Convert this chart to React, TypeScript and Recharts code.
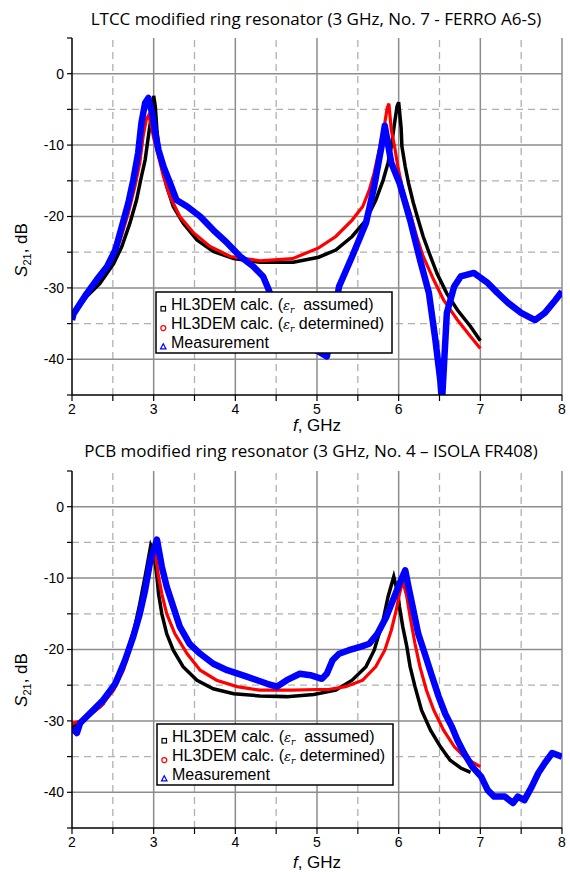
import React from 'react'
import { LineChart, Line, XAxis, YAxis, ReferenceLine } from 'recharts'

// axis ticks
const freqTicks = [2, 2.5, 3, 3.5, 4, 4.5, 5, 5.5, 6, 6.5, 7, 7.5, 8]
const freqMajor = [2, 3, 4, 5, 6, 7, 8]
const freqMinor = [2.5, 3.5, 4.5, 5.5, 6.5, 7.5]
const dbTicks = [-45, -40, -35, -30, -25, -20, -15, -10, -5, 0, 5]
const dbMajor = [-40, -30, -20, -10, 0]
const dbMinor = [-35, -25, -15, -5]

// LTCC, No. 7 - FERRO A6-S
const ltccAssumedF = [2.0, 2.18, 2.34, 2.51, 2.61, 2.71, 2.79, 2.85, 2.895, 2.935, 2.97, 3.0, 3.02, 3.04, 3.06, 3.1, 3.16, 3.24, 3.36, 3.53, 3.73, 3.98, 4.3, 4.71, 5.02, 5.23, 5.43, 5.6, 5.72, 5.81, 5.87, 5.91, 5.95, 5.98, 6.0, 6.03, 6.04, 6.08, 6.12, 6.18, 6.24, 6.3, 6.39, 6.47, 6.59, 6.72, 6.88, 7.0]
const ltccAssumedS = [-34.0, -31.2, -29.4, -26.6, -24.2, -20.9, -17.7, -14.4, -12.1, -8.8, -6.0, -3.1, -4.6, -7.9, -10.2, -13.0, -15.8, -18.6, -20.9, -23.3, -24.9, -25.9, -26.4, -26.4, -25.7, -24.7, -22.8, -20.5, -17.7, -14.9, -12.5, -10.2, -6.9, -4.6, -4.0, -7.6, -10.2, -13.0, -15.3, -18.1, -20.5, -22.8, -25.6, -28.0, -30.8, -33.1, -35.4, -37.4]

const ltccDeterminedF = [2.0, 2.06, 2.26, 2.47, 2.59, 2.69, 2.77, 2.83, 2.87, 2.91, 2.94, 2.97, 3.0, 3.06, 3.12, 3.2, 3.32, 3.49, 3.69, 3.94, 4.3, 4.7, 5.02, 5.23, 5.43, 5.56, 5.64, 5.7, 5.77, 5.83, 5.86, 5.88, 5.91, 5.95, 5.99, 6.05, 6.14, 6.22, 6.3, 6.43, 6.55, 6.72, 6.88, 7.0]
const ltccDeterminedS = [-33.8, -32.6, -29.8, -26.6, -23.3, -19.5, -15.8, -12.5, -8.8, -6.4, -5.8, -7.2, -9.0, -11.6, -14.4, -17.2, -20.0, -22.3, -24.2, -25.6, -26.2, -25.9, -24.4, -22.8, -20.5, -18.6, -16.3, -13.9, -10.2, -6.9, -4.8, -4.2, -7.9, -10.2, -13.0, -16.3, -19.5, -22.8, -25.6, -28.9, -31.7, -34.5, -36.8, -38.5]

const ltccMeasuredF = [2.0, 2.02, 2.1, 2.18, 2.3, 2.43, 2.53, 2.61, 2.69, 2.75, 2.81, 2.85, 2.895, 2.935, 2.98, 3.02, 3.06, 3.12, 3.2, 3.28, 3.41, 3.57, 3.73, 3.9, 4.06, 4.22, 4.34, 4.41, 4.46, 4.6, 4.8, 5.0, 5.12, 5.17, 5.22, 5.27, 5.43, 5.6, 5.7, 5.79, 5.83, 5.91, 6.01, 6.14, 6.26, 6.37, 6.45, 6.51, 6.53, 6.59, 6.68, 6.76, 6.92, 7.09, 7.21, 7.34, 7.5, 7.67, 7.79, 7.92, 8.0]
const ltccMeasuredS = [-34.5, -33.6, -32.2, -30.8, -28.9, -27.0, -24.7, -21.4, -18.1, -14.9, -11.1, -6.9, -4.1, -3.4, -5.5, -8.3, -10.7, -13.0, -15.3, -17.7, -18.6, -20.0, -21.9, -23.7, -25.6, -27.0, -28.4, -30.3, -32.0, -34.5, -37.0, -38.8, -39.6, -37.0, -33.0, -29.8, -25.6, -20.9, -15.8, -10.2, -7.3, -12.5, -15.3, -20.5, -26.0, -30.7, -37.3, -43.0, -46.0, -33.5, -29.8, -28.4, -27.9, -29.3, -30.7, -32.1, -33.5, -34.5, -33.5, -31.7, -30.5]

// PCB, No. 4 - ISOLA FR408
const pcbAssumedF = [2.0, 2.18, 2.38, 2.55, 2.67, 2.77, 2.83, 2.895, 2.94, 2.965, 2.99, 3.02, 3.04, 3.06, 3.1, 3.16, 3.24, 3.36, 3.53, 3.73, 3.98, 4.3, 4.63, 4.96, 5.23, 5.43, 5.6, 5.7, 5.81, 5.87, 5.94, 5.99, 6.01, 6.05, 6.1, 6.14, 6.2, 6.28, 6.39, 6.51, 6.63, 6.76, 6.88]
const pcbAssumedS = [-31.0, -29.4, -27.6, -24.3, -20.6, -16.8, -13.6, -9.8, -7.0, -5.4, -6.0, -8.0, -9.8, -12.2, -15.0, -17.8, -20.1, -22.4, -24.3, -25.5, -26.2, -26.5, -26.6, -26.3, -25.7, -24.3, -22.4, -20.1, -15.9, -12.6, -9.8, -12.2, -14.0, -16.8, -19.6, -22.4, -25.2, -28.5, -31.3, -33.6, -35.5, -36.6, -37.2]

const pcbDeterminedF = [2.0, 2.02, 2.14, 2.35, 2.51, 2.63, 2.73, 2.81, 2.87, 2.92, 2.97, 3.02, 3.06, 3.1, 3.16, 3.26, 3.41, 3.57, 3.77, 4.02, 4.3, 4.7, 5.0, 5.14, 5.35, 5.56, 5.72, 5.83, 5.91, 5.97, 6.01, 6.05, 6.1, 6.14, 6.2, 6.26, 6.34, 6.43, 6.55, 6.68, 6.8, 6.92, 7.0]
const pcbDeterminedS = [-30.5, -30.3, -29.9, -28.0, -25.7, -22.9, -19.2, -15.9, -12.6, -9.8, -7.5, -6.6, -9.8, -12.2, -15.0, -17.8, -20.6, -22.9, -24.3, -25.2, -25.7, -25.7, -25.6, -25.6, -25.2, -24.3, -22.4, -20.1, -17.3, -14.5, -12.2, -10.4, -12.6, -15.4, -19.2, -22.4, -25.7, -28.5, -31.3, -33.6, -35.0, -35.9, -36.4]

const pcbMeasuredF = [2.0, 2.06, 2.1, 2.26, 2.38, 2.53, 2.65, 2.75, 2.83, 2.895, 2.96, 3.04, 3.1, 3.16, 3.24, 3.32, 3.44, 3.57, 3.73, 3.9, 4.14, 4.39, 4.51, 4.63, 4.79, 4.92, 5.06, 5.12, 5.19, 5.27, 5.39, 5.54, 5.64, 5.74, 5.85, 5.93, 6.01, 6.08, 6.12, 6.18, 6.24, 6.32, 6.41, 6.49, 6.57, 6.65, 6.72, 6.8, 6.9, 7.01, 7.09, 7.17, 7.3, 7.4, 7.46, 7.54, 7.63, 7.71, 7.79, 7.88, 8.0]
const pcbMeasuredS = [-31.0, -31.7, -30.3, -28.5, -27.1, -24.8, -21.5, -18.2, -15.0, -11.7, -7.5, -4.6, -8.4, -11.2, -14.0, -16.8, -19.2, -20.6, -22.0, -22.9, -23.8, -24.8, -25.2, -24.3, -23.4, -23.6, -24.1, -23.4, -21.5, -20.6, -20.1, -19.6, -19.2, -17.8, -15.4, -13.1, -10.8, -8.9, -11.2, -14.5, -17.8, -20.6, -23.8, -26.6, -29.0, -30.8, -32.7, -34.5, -36.4, -37.8, -39.7, -40.6, -40.6, -41.5, -40.6, -41.1, -39.2, -37.3, -35.9, -34.5, -35.0]

const zip = (f: number[], s: number[]) => f.map((v, i) => ({ f: v, s: s[i] }))

const TICK_FONT = { fontFamily: 'Liberation Sans, Arial', fontSize: 14, fill: '#000' }

const Panel = ({ assumed, determined, measured, top, height, marginTop, marginBottom }: any) => (
  <div style={{ position: 'absolute', left: 0, top }}>
    <LineChart width={570} height={height} margin={{ top: marginTop, right: 8, bottom: marginBottom, left: 32 }}>
      <XAxis
        type="number"
        dataKey="f"
        domain={[2, 8]}
        ticks={freqTicks}
        interval={0}
        tickFormatter={(v: number) => (Number.isInteger(v) ? String(v) : '')}
        tick={TICK_FONT}
        tickSize={6}
        tickMargin={3}
        height={30}
        axisLine={{ stroke: '#000', strokeWidth: 1.5 }}
        tickLine={{ stroke: '#000', strokeWidth: 1.2 }}
        allowDataOverflow
      />
      <YAxis
        type="number"
        domain={[-45, 5]}
        ticks={dbTicks}
        interval={0}
        tickFormatter={(v: number) => (v % 10 === 0 && v <= 0 && v >= -40 ? String(v) : '')}
        tick={TICK_FONT}
        tickSize={5}
        tickMargin={3}
        width={40}
        axisLine={{ stroke: '#000', strokeWidth: 1.5 }}
        tickLine={{ stroke: '#000', strokeWidth: 1.2 }}
        allowDataOverflow
      />
      {freqMinor.map((v) => (
        <ReferenceLine key={'xm' + v} x={v} stroke="#b0b0b0" strokeWidth={1.3} strokeDasharray="7 5" />
      ))}
      {dbMinor.map((v) => (
        <ReferenceLine key={'ym' + v} y={v} stroke="#b0b0b0" strokeWidth={1.3} strokeDasharray="7 5" />
      ))}
      {freqMajor.slice(1).map((v) => (
        <ReferenceLine key={'x' + v} x={v} stroke="#8c8c8c" strokeWidth={1.5} />
      ))}
      {dbMajor.map((v) => (
        <ReferenceLine key={'y' + v} y={v} stroke="#8c8c8c" strokeWidth={1.5} />
      ))}
      <Line data={assumed} dataKey="s" stroke="#000" strokeWidth={3.5} dot={false} type="linear" isAnimationActive={false} />
      <Line data={determined} dataKey="s" stroke="#ff0000" strokeWidth={3.2} dot={false} type="linear" isAnimationActive={false} />
      <Line data={measured} dataKey="s" stroke="#0000ff" strokeWidth={6.5} dot={false} type="linear" strokeLinejoin="round" isAnimationActive={false} />
    </LineChart>
  </div>
)

const LegendBox = ({ x, y }: { x: number; y: number }) => {
  const rows = [0, 19.3, 37.7]
  const eps = (
    <>
      <tspan fontFamily="DejaVu Serif" fontStyle="italic" fontSize={13}>ε</tspan>
      <tspan fontFamily="DejaVu Serif" fontStyle="italic" fontSize={9} dy={3}>r</tspan>
    </>
  )
  return (
    <g>
      <rect x={x} y={y} width={236} height={61} fill="#fff" stroke="#000" strokeWidth={1.5} />
      <rect x={x + 5} y={y + 14.5} width={4.5} height={4.5} fill="none" stroke="#000" strokeWidth={1.2} />
      <circle cx={x + 7.3} cy={y + 16.8 + rows[1]} r={2.5} fill="none" stroke="#ff0000" strokeWidth={1.2} />
      <path d={`M ${x + 4.5} ${y + 19.2 + rows[2]} L ${x + 10} ${y + 19.2 + rows[2]} L ${x + 7.25} ${y + 14 + rows[2]} Z`} fill="none" stroke="#0000ff" strokeWidth={1.2} />
      <text x={x + 15} y={y + 18 + rows[0]} fontFamily="Liberation Sans, Arial" fontSize={16}>
        HL3DEM calc. ({eps}<tspan dy={-3}>{'\u00a0 assumed)'}</tspan>
      </text>
      <text x={x + 15} y={y + 18 + rows[1]} fontFamily="Liberation Sans, Arial" fontSize={16}>
        HL3DEM calc. ({eps}<tspan dy={-3}> determined)</tspan>
      </text>
      <text x={x + 15} y={y + 18 + rows[2]} fontFamily="Liberation Sans, Arial" fontSize={16}>
        Measurement
      </text>
    </g>
  )
}

const YLabel = ({ cy }: { cy: number }) => (
  <text transform={`translate(27 ${cy}) rotate(-90)`} textAnchor="middle" fontFamily="Liberation Sans, Arial" fontSize={17}>
    <tspan fontStyle="italic">S</tspan>
    <tspan fontSize={11} dy={4}>21</tspan>
    <tspan dy={-4}>, dB</tspan>
  </text>
)

const XLabel = ({ y }: { y: number }) => (
  <text x={317} y={y} textAnchor="middle" fontFamily="Liberation Sans, Arial" fontSize={17}>
    <tspan fontStyle="italic">f</tspan>, GHz
  </text>
)

export default function App() {
  return (
    <div style={{ position: 'absolute', left: 0, top: 0, width: 570, height: 872, background: '#fff' }}>
      <Panel
        assumed={zip(ltccAssumedF, ltccAssumedS)}
        determined={zip(ltccDeterminedF, ltccDeterminedS)}
        measured={zip(ltccMeasuredF, ltccMeasuredS)}
        top={0}
        height={436}
        marginTop={38}
        marginBottom={11}
      />
      <Panel
        assumed={zip(pcbAssumedF, pcbAssumedS)}
        determined={zip(pcbDeterminedF, pcbDeterminedS)}
        measured={zip(pcbMeasuredF, pcbMeasuredS)}
        top={436}
        height={436}
        marginTop={35}
        marginBottom={14}
      />
      <svg width={570} height={872} style={{ position: 'absolute', left: 0, top: 0, pointerEvents: 'none' }}>
        <text x={316} y={25} textAnchor="middle" fontFamily="Open Sans" fontSize={17}>
          LTCC modified ring resonator (3 GHz, No. 7 - FERRO A6-S)
        </text>
        <text x={311} y={457} textAnchor="middle" fontFamily="Open Sans" fontSize={17}>
          PCB modified ring resonator (3 GHz, No. 4 – ISOLA FR408)
        </text>
        <YLabel cy={250} />
        <YLabel cy={680} />
        <XLabel y={431} />
        <XLabel y={868} />
        <LegendBox x={156} y={292} />
        <LegendBox x={157} y={724} />
      </svg>
    </div>
  )
}
